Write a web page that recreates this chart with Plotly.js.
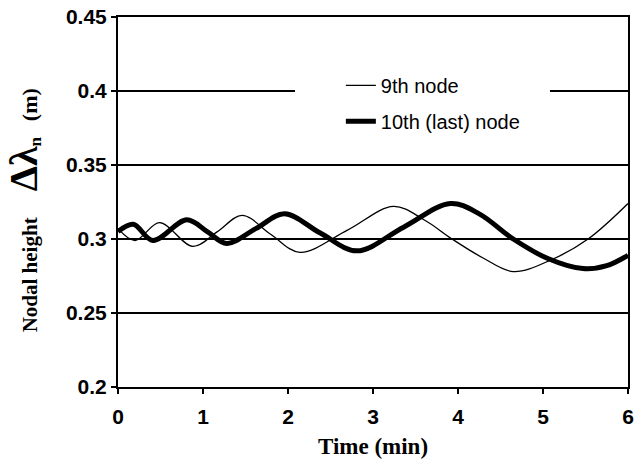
<!DOCTYPE html>
<html>
<head>
<meta charset="utf-8">
<script src="https://cdn.plot.ly/plotly-3.0.1.min.js"></script>
<style>html,body{margin:0;padding:0;background:#fff;}#chart{width:635px;height:463px;}</style>
</head>
<body>
<div id="chart"></div>
<script>
// Data
const node9Time   = [0, 0.2, 0.49, 0.88, 1.17, 1.46, 1.8, 2.14, 2.7, 3.24, 3.6, 3.93, 4.3, 4.65, 5.1, 5.53, 6.0];
const node9Height = [0.307, 0.299, 0.311, 0.295, 0.305, 0.316, 0.303, 0.291, 0.306, 0.322, 0.313, 0.300, 0.287, 0.278, 0.286, 0.300, 0.324];

const node10Time   = [0, 0.18, 0.41, 0.81, 1.05, 1.28, 1.62, 1.96, 2.38, 2.81, 3.36, 3.91, 4.25, 4.65, 5.05, 5.47, 5.75, 6.0];
const node10Height = [0.305, 0.310, 0.299, 0.313, 0.305, 0.297, 0.307, 0.317, 0.304, 0.292, 0.308, 0.324, 0.317, 0.300, 0.287, 0.280, 0.282, 0.289];

const seriesNames = ['9th node', '10th (last) node'];
const xTicks = [0, 1, 2, 3, 4, 5, 6];
const yTicks = [0.2, 0.25, 0.3, 0.35, 0.4, 0.45];

const tickFont = {family: 'Liberation Sans, Arial, sans-serif', size: 21, color: '#000', weight: 'bold'};
const titleFont = {family: 'Liberation Serif, Times New Roman, serif', size: 21, color: '#000', weight: 'bold'};
const NB = '\u00A0';
const yTitle = 'Nodal height' + NB.repeat(5) + '<span style="font-size:40px">Δλ</span><sub><span style="font-size:17px">n</span></sub>' + NB.repeat(3) + '<span style="font-size:22px">(m)' + NB.repeat(3) + '</span>';

const traces = [
  {x: node9Time, y: node9Height, name: seriesNames[0], mode: 'lines',
   line: {color: '#000', width: 1.3, shape: 'spline', smoothing: 1.0}, legendgroup: 'a'},
  {x: node10Time, y: node10Height, name: seriesNames[1], mode: 'lines',
   line: {color: '#000', width: 5, shape: 'spline', smoothing: 1.0}, legendgroup: 'b'}
];

const layout = {
  width: 635, height: 463,
  margin: {l: 118, r: 7, t: 17, b: 76},
  paper_bgcolor: '#fff', plot_bgcolor: '#fff',
  showlegend: true,
  legend: {x: 0.437, y: 0.868, xanchor: 'left', yanchor: 'top', bgcolor: 'rgba(0,0,0,0)',
           font: {family: 'Liberation Sans, Arial, sans-serif', size: 20, color: '#000'},
           tracegroupgap: 7},
  xaxis: {range: [0, 6], tickvals: xTicks, ticks: 'outside', ticklen: 5, tickwidth: 1.5, tickcolor: '#000',
          showline: true, linecolor: '#000', linewidth: 2, mirror: true, showgrid: false, zeroline: false,
          tickfont: tickFont, ticklabelstandoff: 5,
          title: {text: 'Time (min)', font: {family: titleFont.family, size: 23, color: '#000', weight: 'bold'}, standoff: 11}},
  yaxis: {range: [0.2, 0.45], tickvals: yTicks, ticks: 'outside', ticklen: 5, tickwidth: 1.5, tickcolor: '#000',
          showline: true, linecolor: '#000', linewidth: 2, mirror: true,
          showgrid: true, gridcolor: '#000', gridwidth: 1.3, zeroline: false,
          tickfont: tickFont, ticklabelstandoff: 0,
          title: {text: yTitle, font: titleFont, standoff: 23}},
  shapes: [
    {type: 'rect', xref: 'paper', yref: 'y', x0: 0.347, x1: 0.847, y0: 0.3975, y1: 0.4025,
     fillcolor: '#fff', line: {width: 0}, layer: 'above'}
  ]
};

Plotly.newPlot('chart', traces, layout, {displayModeBar: false, staticPlot: true});
</script>
</body>
</html>
